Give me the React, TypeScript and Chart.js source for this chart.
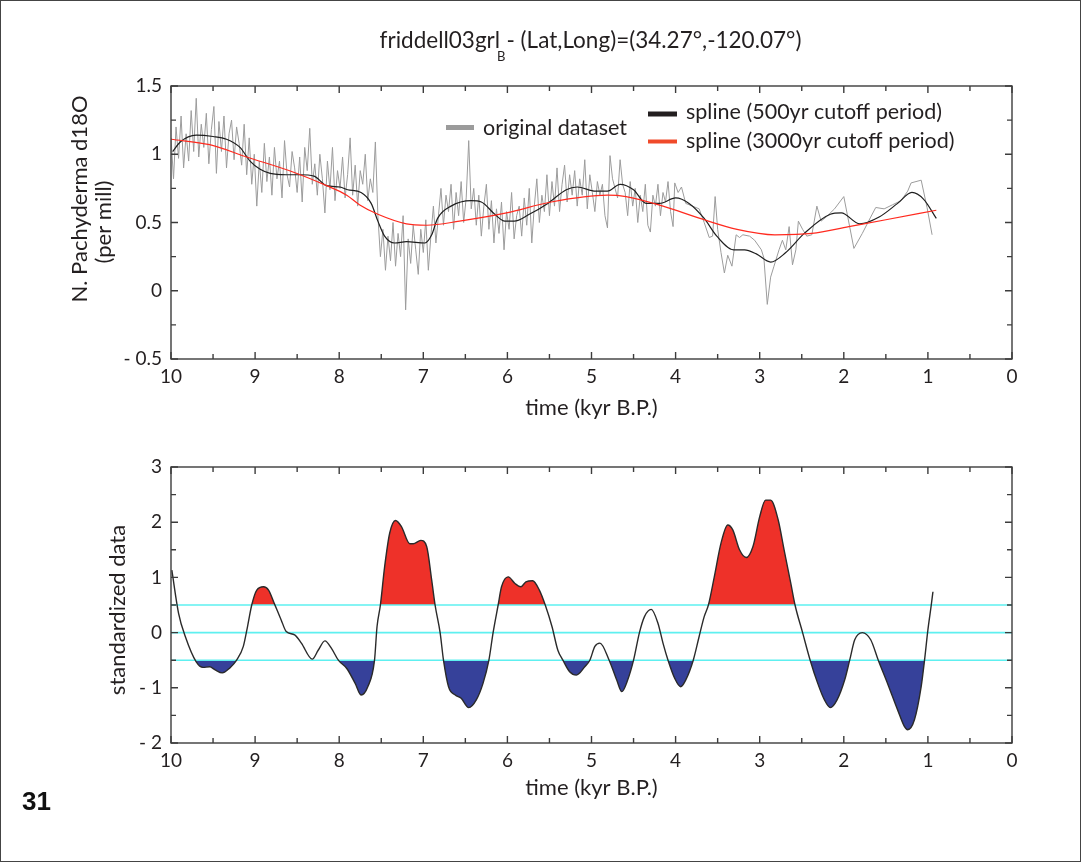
import React, { useEffect, useRef } from "react";
import { Chart, registerables } from "chart.js";

Chart.register(...registerables);

const FONT = 'Lato, "Open Sans", "DejaVu Sans", sans-serif';
const TEXT = "#231f20";

// ---------- text ----------
const titleMain = "friddell03grl";
const titleSub = "B";
const titleRest = "- (Lat,Long)=(34.27°,-120.07°)";
const topYTitle = ["N. Pachyderma d18O", "(per mill)"];
const bottomYTitle = "standardized data";
const xTitle = "time (kyr B.P.)";
const legendOriginal = "original dataset";
const legend500 = "spline (500yr cutoff period)";
const legend3000 = "spline (3000yr cutoff period)";
const panelNumber = "31";

// ---------- ticks ----------
const xTickValues = [10, 9, 8, 7, 6, 5, 4, 3, 2, 1, 0];
const xMinorTicks = [9.5, 8.5, 7.5, 6.5, 5.5, 4.5, 3.5, 2.5, 1.5, 0.5];
const topYTickValues = [-0.5, 0, 0.5, 1, 1.5];
const topYMinorTicks = [-0.25, 0.25, 0.75, 1.25];
const bottomYTickValues = [-2, -1, 0, 1, 2, 3];
const bottomYMinorTicks = [-1.5, -0.5, 0.5, 1.5, 2.5];
const thresholdLevels = [0.5, 0, -0.5];

// ---------- top panel: original dataset ----------
const originalTime = [
  10.0, 9.97, 9.94, 9.91, 9.88, 9.85, 9.82, 9.79, 9.76, 9.73,
  9.7, 9.67, 9.64, 9.61, 9.58, 9.55, 9.52, 9.49, 9.46, 9.43,
  9.4, 9.37, 9.34, 9.31, 9.28, 9.25, 9.22, 9.19, 9.16, 9.13,
  9.1, 9.07, 9.04, 9.01, 8.98, 8.95, 8.92, 8.89, 8.86, 8.83,
  8.8, 8.77, 8.74, 8.71, 8.68, 8.65, 8.62, 8.59, 8.56, 8.53,
  8.5, 8.47, 8.44, 8.41, 8.38, 8.35, 8.32, 8.29, 8.26, 8.23,
  8.2, 8.17, 8.14, 8.11, 8.08, 8.05, 8.02, 7.99, 7.96, 7.93,
  7.9, 7.87, 7.84, 7.81, 7.78, 7.75, 7.72, 7.69, 7.66, 7.63,
  7.6, 7.57, 7.54, 7.51, 7.48, 7.45, 7.42, 7.39, 7.36, 7.33,
  7.3, 7.27, 7.24, 7.21, 7.18, 7.15, 7.12, 7.09, 7.06, 7.03,
  7.0, 6.97, 6.94, 6.91, 6.88, 6.85, 6.82, 6.79, 6.76, 6.73,
  6.7, 6.67, 6.64, 6.61, 6.58, 6.55, 6.52, 6.49, 6.46, 6.43,
  6.4, 6.37, 6.34, 6.31, 6.28, 6.25, 6.22, 6.19, 6.16, 6.13,
  6.1, 6.07, 6.04, 6.01, 5.98, 5.95, 5.92, 5.89, 5.86, 5.83,
  5.8, 5.77, 5.74, 5.71, 5.68, 5.65, 5.62, 5.59, 5.56, 5.53,
  5.5, 5.47, 5.44, 5.41, 5.38, 5.35, 5.32, 5.29, 5.26, 5.23,
  5.2, 5.17, 5.14, 5.11, 5.08, 5.05, 5.02, 4.99, 4.96, 4.93,
  4.9, 4.87, 4.84, 4.81, 4.78, 4.75, 4.72, 4.69, 4.66, 4.63,
  4.6, 4.57, 4.54, 4.51, 4.48, 4.45, 4.42, 4.39, 4.36, 4.33,
  4.3, 4.27, 4.24, 4.21, 4.18, 4.15, 4.12, 4.09, 4.06, 4.03,
  4.01, 3.97, 3.93, 3.88, 3.8, 3.72, 3.66, 3.6, 3.56, 3.53,
  3.5, 3.46, 3.42, 3.38, 3.33, 3.28, 3.24, 3.2, 3.12, 3.06,
  2.98, 2.95, 2.91, 2.87, 2.83, 2.77, 2.73, 2.69, 2.65, 2.61,
  2.57, 2.54, 2.49, 2.44, 2.38, 2.32, 2.27, 2.21, 2.11, 2.0,
  1.88, 1.78, 1.68, 1.62, 1.52, 1.42, 1.32, 1.24, 1.2, 1.08,
  1.01, 0.95,
];
const originalValue = [
  1.12, 0.82, 1.2, 0.97, 1.28, 0.9, 1.15, 0.95, 1.32, 1.02,
  1.41, 0.98, 1.22, 1.05, 1.3, 0.93, 1.18, 1.35, 0.86, 1.24,
  1.02, 1.28, 0.9, 1.15, 1.25, 0.96, 1.2, 1.08, 0.92, 1.22,
  0.85, 1.12, 0.78, 1.0, 0.62, 0.95, 0.72, 1.08, 0.8, 0.98,
  0.7, 1.05, 0.82, 0.95, 0.68, 1.1, 0.85, 0.76, 1.02, 0.9,
  0.72, 0.98, 0.65, 1.05, 0.88, 1.19, 0.78, 0.93, 0.7, 1.0,
  0.82, 0.57, 0.95, 0.74, 1.05, 0.66, 0.88, 0.75, 0.98, 0.68,
  0.85, 1.12, 0.7, 0.92, 0.62, 0.88, 0.78, 1.0, 0.66, 0.82,
  0.72, 1.09, 0.55, 0.25, 0.45, 0.15, 0.4, 0.22, 0.5, 0.18,
  0.42, 0.25, 0.55, -0.14, 0.38, 0.2, 0.48, 0.3, 0.12, 0.45,
  0.28, 0.52, 0.15, 0.4, 0.62, 0.35, 0.55, 0.75, 0.48, 0.7,
  0.58, 0.78, 0.45, 0.72, 0.55, 0.8, 0.5, 0.68, 1.1, 0.6,
  0.75, 0.48, 0.7, 0.4, 0.62, 0.78, 0.45, 0.66, 0.35, 0.6,
  0.42, 0.65, 0.3, 0.58, 0.45, 0.72, 0.38, 0.55, 0.62, 0.4,
  0.68, 0.48, 0.75, 0.35, 0.62, 0.82, 0.5, 0.7, 0.58, 0.85,
  0.55, 0.8, 0.62, 0.9, 0.58, 0.78, 0.92, 0.65, 0.85, 0.7,
  0.88, 0.62, 0.82, 0.7, 0.96, 0.6, 0.85, 0.72, 0.58, 0.8,
  0.7, 0.78, 0.55, 0.46, 0.99, 0.82, 0.75, 0.68, 0.96, 0.78,
  0.72, 0.55, 0.8, 0.62, 0.75, 0.5, 0.7, 0.58, 0.78, 0.48,
  0.43, 0.7, 0.62, 0.78, 0.55, 0.72, 0.65, 0.8, 0.58, 0.47,
  0.79, 0.72, 0.76, 0.64, 0.62, 0.6, 0.5, 0.39, 0.4, 0.69,
  0.45, 0.28, 0.13, 0.26, 0.18, 0.41, 0.39, 0.41, 0.4, 0.37,
  0.3, 0.24, -0.1, 0.1, 0.18, 0.3, 0.37, 0.3, 0.47, 0.19,
  0.3, 0.51, 0.45, 0.4, 0.41, 0.62, 0.51, 0.54, 0.6, 0.69,
  0.31, 0.42, 0.54, 0.61, 0.6, 0.63, 0.66, 0.73, 0.79, 0.81,
  0.61, 0.41,
];

// ---------- top panel: 500yr spline ----------
const spline500Time = [
  9.98, 9.89, 9.7, 9.5, 9.34, 9.18, 9.06, 8.94, 8.82, 8.63,
  8.47, 8.3, 8.15, 7.99, 7.9, 7.74, 7.62, 7.54, 7.46, 7.34,
  7.2, 6.98, 6.9, 6.83, 6.67, 6.43, 6.31, 6.15, 6.03, 5.92,
  5.74, 5.52, 5.3, 5.17, 4.95, 4.81, 4.66, 4.5, 4.35, 4.19,
  4.0, 3.84, 3.66, 3.51, 3.31, 3.18, 3.04, 2.87, 2.69, 2.47,
  2.16, 2.03, 1.81, 1.58, 1.36, 1.19, 1.05, 0.9,
];
const spline500Value = [
  1.02, 1.09, 1.14, 1.13, 1.11, 1.05, 0.95, 0.89, 0.86, 0.85,
  0.85, 0.84, 0.77, 0.76, 0.74, 0.72, 0.64, 0.51, 0.4, 0.35,
  0.36, 0.35, 0.41, 0.53, 0.62, 0.66, 0.65, 0.56, 0.51, 0.51,
  0.56, 0.64, 0.74, 0.76, 0.73, 0.73, 0.78, 0.74, 0.64, 0.64,
  0.68, 0.64, 0.53, 0.4, 0.3, 0.3, 0.27, 0.21, 0.28, 0.42,
  0.56, 0.57, 0.49, 0.54, 0.64, 0.72, 0.67, 0.53,
];

// ---------- top panel: 3000yr spline ----------
const spline3000Time = [
  10.0, 9.54, 9.1, 8.55, 8.15, 7.91, 7.76, 7.54, 7.2, 6.96,
  6.57, 6.01, 5.48, 4.81, 4.59, 4.15, 3.71, 3.27, 2.82, 2.38,
  1.94, 1.5, 0.9,
];
const spline3000Value = [
  1.11, 1.07, 0.98, 0.87, 0.77, 0.7, 0.63, 0.56, 0.49, 0.48,
  0.51, 0.57, 0.65, 0.7, 0.69, 0.62, 0.53, 0.45, 0.41, 0.42,
  0.47, 0.52, 0.59,
];

// ---------- bottom panel: standardized data ----------
const stdTime = [
  9.99, 9.91, 9.83, 9.7, 9.62, 9.54, 9.48, 9.39, 9.3, 9.22,
  9.14, 9.09, 9.04, 8.98, 8.9, 8.84, 8.77, 8.69, 8.63, 8.53,
  8.45, 8.32, 8.25, 8.17, 8.09, 8.01, 7.91, 7.81, 7.74, 7.66,
  7.58, 7.55, 7.51, 7.46, 7.4, 7.33, 7.26, 7.16, 7.12, 7.03,
  6.96, 6.9, 6.86, 6.8, 6.76, 6.7, 6.62, 6.55, 6.46, 6.37,
  6.29, 6.22, 6.17, 6.11, 6.07, 5.99, 5.91, 5.84, 5.78, 5.7,
  5.62, 5.55, 5.47, 5.4, 5.34, 5.26, 5.18, 5.08, 5.02, 4.96,
  4.9, 4.79, 4.7, 4.64, 4.57, 4.5, 4.43, 4.37, 4.29, 4.21,
  4.15, 4.09, 4.01, 3.94, 3.88, 3.79, 3.72, 3.66, 3.61, 3.54,
  3.46, 3.38, 3.32, 3.24, 3.16, 3.08, 3.0, 2.93, 2.87, 2.78,
  2.71, 2.63, 2.58, 2.49, 2.4, 2.31, 2.23, 2.16, 2.08, 1.99,
  1.93, 1.87, 1.78, 1.68, 1.59, 1.48, 1.36, 1.28, 1.24, 1.16,
  1.08, 1.04, 1.0, 0.96, 0.94,
];
const stdValue = [
  1.13, 0.35, -0.07, -0.53, -0.63, -0.62, -0.67, -0.73, -0.64, -0.5,
  -0.25, 0.11, 0.5, 0.77, 0.83, 0.77, 0.52, 0.23, 0.02, -0.04,
  -0.19, -0.48, -0.32, -0.15, -0.29, -0.5, -0.65, -0.92, -1.13, -0.98,
  -0.5, 0.11, 0.5, 1.19, 1.8, 2.03, 1.92, 1.61, 1.61, 1.67,
  1.56, 0.95, 0.5, 0.0, -0.5, -0.98, -1.13, -1.19, -1.36, -1.22,
  -0.92, -0.5, 0.0, 0.5, 0.83, 1.01, 0.89, 0.83, 0.92, 0.94,
  0.77, 0.5, 0.11, -0.32, -0.5, -0.71, -0.77, -0.62, -0.5, -0.25,
  -0.19, -0.5, -0.86, -1.07, -0.86, -0.5, 0.0, 0.29, 0.42, 0.17,
  -0.19, -0.5, -0.83, -0.98, -0.86, -0.5, -0.07, 0.29, 0.5, 1.01,
  1.62, 1.95, 1.86, 1.5, 1.36, 1.56, 2.1, 2.4, 2.4, 2.04,
  1.5, 0.89, 0.5, 0.0, -0.5, -0.92, -1.22, -1.36, -1.22, -0.86,
  -0.5, -0.13, 0.0, -0.13, -0.5, -0.92, -1.4, -1.7, -1.76, -1.58,
  -0.98, -0.5, 0.05, 0.5, 0.74,
];

// ---------- helpers ----------
const pts = (t: number[], v: number[]) => t.map((x, i) => ({ x, y: v[i] }));
const fmtTick = (v: number) => (v < 0 ? "- " + Math.abs(v) : String(v));

function framePlugin(
  xMinor: number[],
  yMinor: number[],
  yMajor: number[],
  yTitles: { text: string; x: number; y: number }[]
) {
  return {
    id: "frame",
    afterDraw(chart: any) {
      const { ctx, chartArea: a, scales } = chart;
      const xs = scales.x;
      const ys = scales.y;
      ctx.save();
      ctx.strokeStyle = "#3c3c3c";
      ctx.lineWidth = 1.4;
      ctx.beginPath();
      const tick = (px: number, len: number) => {
        ctx.moveTo(px, a.bottom);
        ctx.lineTo(px, a.bottom - len);
        ctx.moveTo(px, a.top);
        ctx.lineTo(px, a.top + len);
      };
      const ytick = (py: number, len: number) => {
        ctx.moveTo(a.left, py);
        ctx.lineTo(a.left + len, py);
        ctx.moveTo(a.right, py);
        ctx.lineTo(a.right - len, py);
      };
      xTickValues.forEach((v) => tick(xs.getPixelForValue(v), 7));
      xMinor.forEach((v) => tick(xs.getPixelForValue(v), 5));
      yMajor.forEach((v) => ytick(ys.getPixelForValue(v), 7));
      yMinor.forEach((v) => ytick(ys.getPixelForValue(v), 5));
      ctx.stroke();
      ctx.strokeRect(a.left, a.top, a.right - a.left, a.bottom - a.top);

      // rotated y-axis titles
      ctx.fillStyle = TEXT;
      ctx.font = `22px ${FONT}`;
      ctx.textAlign = "center";
      ctx.textBaseline = "middle";
      yTitles.forEach((t) => {
        ctx.save();
        ctx.translate(t.x, t.y);
        ctx.rotate(-Math.PI / 2);
        ctx.fillText(t.text, 0, 0);
        ctx.restore();
      });
      ctx.restore();
    },
  };
}

const topTextPlugin = {
  id: "topText",
  afterDraw(chart: any) {
    const { ctx, chartArea: a } = chart;
    ctx.save();
    ctx.fillStyle = TEXT;
    // title with subscript
    const big = `22.5px ${FONT}`;
    const small = `13px ${FONT}`;
    ctx.font = big;
    const w1 = ctx.measureText(titleMain).width;
    const w3 = ctx.measureText(titleRest).width;
    ctx.font = small;
    const w2 = ctx.measureText(titleSub).width;
    const total = w1 + w2 + w3;
    let x = (a.left + a.right) / 2 - total / 2;
    const base = 48;
    ctx.textBaseline = "alphabetic";
    ctx.textAlign = "left";
    ctx.font = big;
    ctx.fillText(titleMain, x, base);
    x += w1;
    ctx.font = small;
    ctx.fillText(titleSub, x - 3, base + 13);
    x += w2 - 2;
    ctx.font = big;
    ctx.fillText(titleRest, x, base);

    // legend
    ctx.lineCap = "butt";
    const swatch = (x0: number, x1: number, y: number, c: string, w: number) => {
      ctx.strokeStyle = c;
      ctx.lineWidth = w;
      ctx.beginPath();
      ctx.moveTo(x0, y);
      ctx.lineTo(x1, y);
      ctx.stroke();
    };
    swatch(446, 474, 127.5, "#9b9b9b", 5);
    swatch(648, 677, 114, "#231f20", 5);
    swatch(648, 677, 141.5, "#f04a2a", 4);
    ctx.font = `21.5px ${FONT}`;
    ctx.textBaseline = "middle";
    ctx.fillStyle = TEXT;
    ctx.fillText(legendOriginal, 483, 128);
    ctx.fillText(legend500, 686, 112);
    ctx.fillText(legend3000, 686, 141);
    ctx.restore();
  },
};

const tickFont = { family: FONT, size: 19 };
const axisTitleFont = { family: FONT, size: 22, lineHeight: 1.2 };

function baseScales(opts: {
  xHeight: number;
  xTitlePad: number;
  yMin: number;
  yMax: number;
  yTicks: number[];
}) {
  return {
    x: {
      type: "linear",
      reverse: true,
      min: 0,
      max: 10,
      afterFit: (s: any) => {
        s.height = opts.xHeight;
      },
      afterBuildTicks: (s: any) => {
        s.ticks = xTickValues.map((v) => ({ value: v }));
      },
      grid: { display: false, drawTicks: false },
      border: { display: false },
      ticks: {
        font: tickFont,
        color: TEXT,
        padding: 6,
        maxRotation: 0,
        autoSkip: false,
        callback: (v: any) => fmtTick(Number(v)),
      },
      title: {
        display: true,
        text: xTitle,
        font: axisTitleFont,
        color: TEXT,
        padding: { top: 0, bottom: opts.xTitlePad },
      },
    },
    y: {
      type: "linear",
      min: opts.yMin,
      max: opts.yMax,
      afterFit: (s: any) => {
        s.width = 171;
      },
      afterBuildTicks: (s: any) => {
        s.ticks = opts.yTicks.map((v) => ({ value: v }));
      },
      grid: { display: false, drawTicks: false },
      border: { display: false },
      ticks: {
        font: tickFont,
        color: TEXT,
        padding: 9,
        callback: (v: any) => fmtTick(Number(v)),
      },
      title: { display: false },
    },
  };
}

function topConfig(): any {
  return {
    type: "line",
    data: {
      datasets: [
        {
          data: pts(spline3000Time, spline3000Value),
          borderColor: "#ff2a1f",
          borderWidth: 1.2,
          cubicInterpolationMode: "monotone",
          pointRadius: 0,
          fill: false,
        },
        {
          data: pts(spline500Time, spline500Value),
          borderColor: "#1f1f1f",
          borderWidth: 1.2,
          cubicInterpolationMode: "monotone",
          pointRadius: 0,
          fill: false,
        },
        {
          data: pts(originalTime, originalValue),
          borderColor: "#9c9c9c",
          borderWidth: 1,
          tension: 0,
          pointRadius: 0,
          fill: false,
        },
      ],
    },
    options: {
      animation: false,
      responsive: false,
      maintainAspectRatio: false,
      layout: { padding: { left: 0, right: 69, top: 86, bottom: 0 }, autoPadding: false },
      plugins: { legend: { display: false }, tooltip: { enabled: false }, title: { display: false } },
      scales: baseScales({
        xHeight: 71,
        xTitlePad: 9,
        yMin: -0.5,
        yMax: 1.5,
        yTicks: topYTickValues,
      }),
    },
    plugins: [
      framePlugin(xMinorTicks, topYMinorTicks, topYTickValues, [
        { text: topYTitle[0], x: 80, y: 199 },
        { text: topYTitle[1], x: 104, y: 222 },
      ]),
      topTextPlugin,
    ],
  };
}

function bottomConfig(): any {
  const std = pts(stdTime, stdValue);
  const stdFill = std.slice(1, std.length - 1);
  return {
    type: "line",
    data: {
      datasets: [
        {
          data: std,
          borderColor: "#2a2a2a",
          borderWidth: 1.4,
          cubicInterpolationMode: "monotone",
          pointRadius: 0,
          fill: false,
        },
        ...thresholdLevels.map((lvl) => ({
          data: [
            { x: 10, y: lvl },
            { x: 0, y: lvl },
          ],
          borderColor: "#5ef0f0",
          borderWidth: 1.6,
          pointRadius: 0,
          fill: false,
        })),
        {
          data: stdFill,
          borderColor: "rgba(0,0,0,0)",
          borderWidth: 0,
          cubicInterpolationMode: "monotone",
          pointRadius: 0,
          fill: { target: { value: 0.5 }, above: "#ee3129", below: "rgba(0,0,0,0)" },
        },
        {
          data: stdFill,
          borderColor: "rgba(0,0,0,0)",
          borderWidth: 0,
          cubicInterpolationMode: "monotone",
          pointRadius: 0,
          fill: { target: { value: -0.5 }, above: "rgba(0,0,0,0)", below: "#36419a" },
        },
      ],
    },
    options: {
      animation: false,
      responsive: false,
      maintainAspectRatio: false,
      layout: { padding: { left: 0, right: 69, top: 37, bottom: 0 }, autoPadding: false },
      plugins: { legend: { display: false }, tooltip: { enabled: false }, title: { display: false } },
      scales: baseScales({
        xHeight: 119,
        xTitlePad: 61,
        yMin: -2,
        yMax: 3,
        yTicks: bottomYTickValues,
      }),
    },
    plugins: [
      framePlugin(xMinorTicks, bottomYMinorTicks, bottomYTickValues, [
        { text: bottomYTitle, x: 118, y: 180 },
      ]),
    ],
  };
}

export default function App() {
  const topRef = useRef<HTMLCanvasElement>(null);
  const botRef = useRef<HTMLCanvasElement>(null);
  useEffect(() => {
    const top = new Chart(topRef.current as HTMLCanvasElement, topConfig());
    const bot = new Chart(botRef.current as HTMLCanvasElement, bottomConfig());
    return () => {
      top.destroy();
      bot.destroy();
    };
  }, []);
  return (
    <div
      style={{
        position: "fixed",
        left: 0,
        top: 0,
        width: 1081,
        height: 862,
        background: "#fff",
        overflow: "hidden",
      }}
    >
      <canvas
        ref={topRef}
        width={1081}
        height={430}
        style={{ position: "absolute", left: 0, top: 0, width: 1081, height: 430 }}
      />
      <canvas
        ref={botRef}
        width={1081}
        height={432}
        style={{ position: "absolute", left: 0, top: 430, width: 1081, height: 432 }}
      />
      <div
        style={{
          position: "absolute",
          left: 22,
          top: 788,
          font: 'bold 26px "Liberation Sans", Arial, sans-serif',
          lineHeight: "26px",
          color: "#111",
        }}
      >
        {panelNumber}
      </div>
      <div
        style={{
          position: "absolute",
          left: 0,
          top: 0,
          width: 1081,
          height: 862,
          boxSizing: "border-box",
          border: "1px solid #444",
          pointerEvents: "none",
        }}
      />
    </div>
  );
}
